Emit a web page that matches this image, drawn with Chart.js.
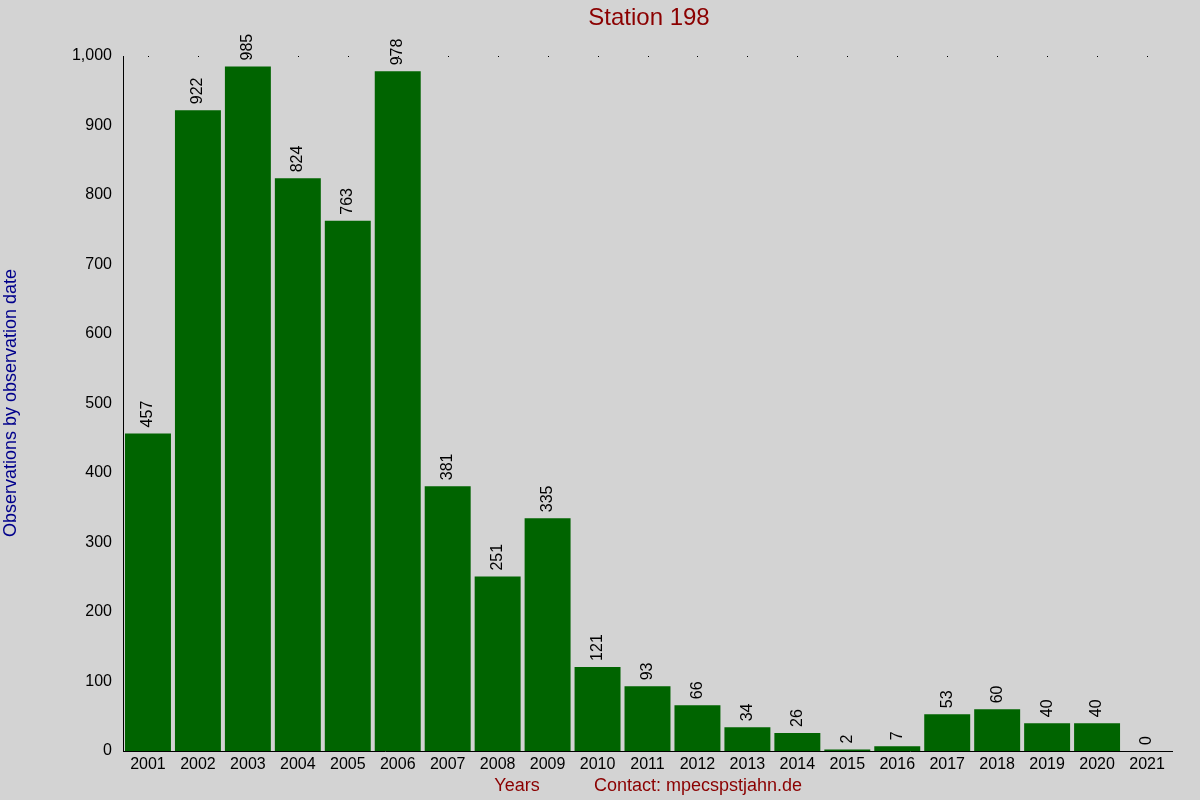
<!DOCTYPE html>
<html>
<head>
<meta charset="utf-8">
<script src="https://cdn.jsdelivr.net/npm/chart.js@4"></script>
<style>
  html, body { margin: 0; padding: 0; background: #d3d3d3; }
  #wrap { width: 1200px; height: 800px; position: relative; }
</style>
</head>
<body>
<div id="wrap"><canvas id="chart"></canvas></div>
<script>
// data
const years = ['2001','2002','2003','2004','2005','2006','2007','2008','2009','2010','2011',
               '2012','2013','2014','2015','2016','2017','2018','2019','2020','2021'];
const counts = [457, 922, 985, 824, 763, 978, 381, 251, 335, 121, 93,
                66, 34, 26, 2, 7, 53, 60, 40, 40, 0];

const FONT = '"Liberation Sans", Arial, sans-serif';

// titles, value labels and the little dots along the top edge
const extras = {
  id: 'extras',
  afterDatasetsDraw(chart) {
    const ctx = chart.ctx;
    const area = chart.chartArea;
    const meta = chart.getDatasetMeta(0);
    ctx.save();
    ctx.fillStyle = '#000';
    ctx.font = '16px ' + FONT;
    ctx.textAlign = 'left';
    ctx.textBaseline = 'middle';
    meta.data.forEach((bar, i) => {
      ctx.save();
      ctx.translate(bar.x, bar.y - 6);
      ctx.rotate(-Math.PI / 2);
      ctx.fillText(String(counts[i]), 0, 0);
      ctx.restore();
      ctx.fillRect(Math.round(bar.x), area.top, 1, 1);
    });
    ctx.textAlign = 'center';
    ctx.fillStyle = '#8b0000';
    ctx.font = '24px ' + FONT;
    ctx.fillText('Station 198', 649, 18);
    ctx.font = '18px ' + FONT;
    ctx.fillText('Years', 517, 786);
    ctx.fillText('Contact: mpecspstjahn.de', 698, 786);
    ctx.fillStyle = '#00008b';
    ctx.translate(11, 403);
    ctx.rotate(-Math.PI / 2);
    ctx.fillText('Observations by observation date', 0, 0);
    ctx.restore();
  }
};

new Chart(document.getElementById('chart'), {
  type: 'bar',
  data: {
    labels: years,
    datasets: [{
      data: counts,
      backgroundColor: '#006400',
      barPercentage: 0.92,
      categoryPercentage: 1.0
    }]
  },
  options: {
    responsive: true,
    maintainAspectRatio: false,
    animation: false,
    layout: { padding: { top: 56, right: 28, left: 0, bottom: 0 } },
    plugins: { legend: { display: false }, tooltip: { enabled: false } },
    scales: {
      x: {
        grid: { display: false, drawTicks: false },
        border: { color: '#000' },
        ticks: { color: '#000', font: { family: FONT, size: 16 }, maxRotation: 0, padding: 4 },
        afterFit(s) { s.height = 49; }
      },
      y: {
        min: 0, max: 1000,
        grid: { display: false, drawOnChartArea: false, drawTicks: true, tickLength: 5, color: '#000' },
        border: { color: '#000' },
        ticks: { stepSize: 100, color: '#000', font: { family: FONT, size: 16 }, padding: 6 },
        afterFit(s) { s.width = 123; }
      }
    }
  },
  plugins: [extras]
});
</script>
</body>
</html>
